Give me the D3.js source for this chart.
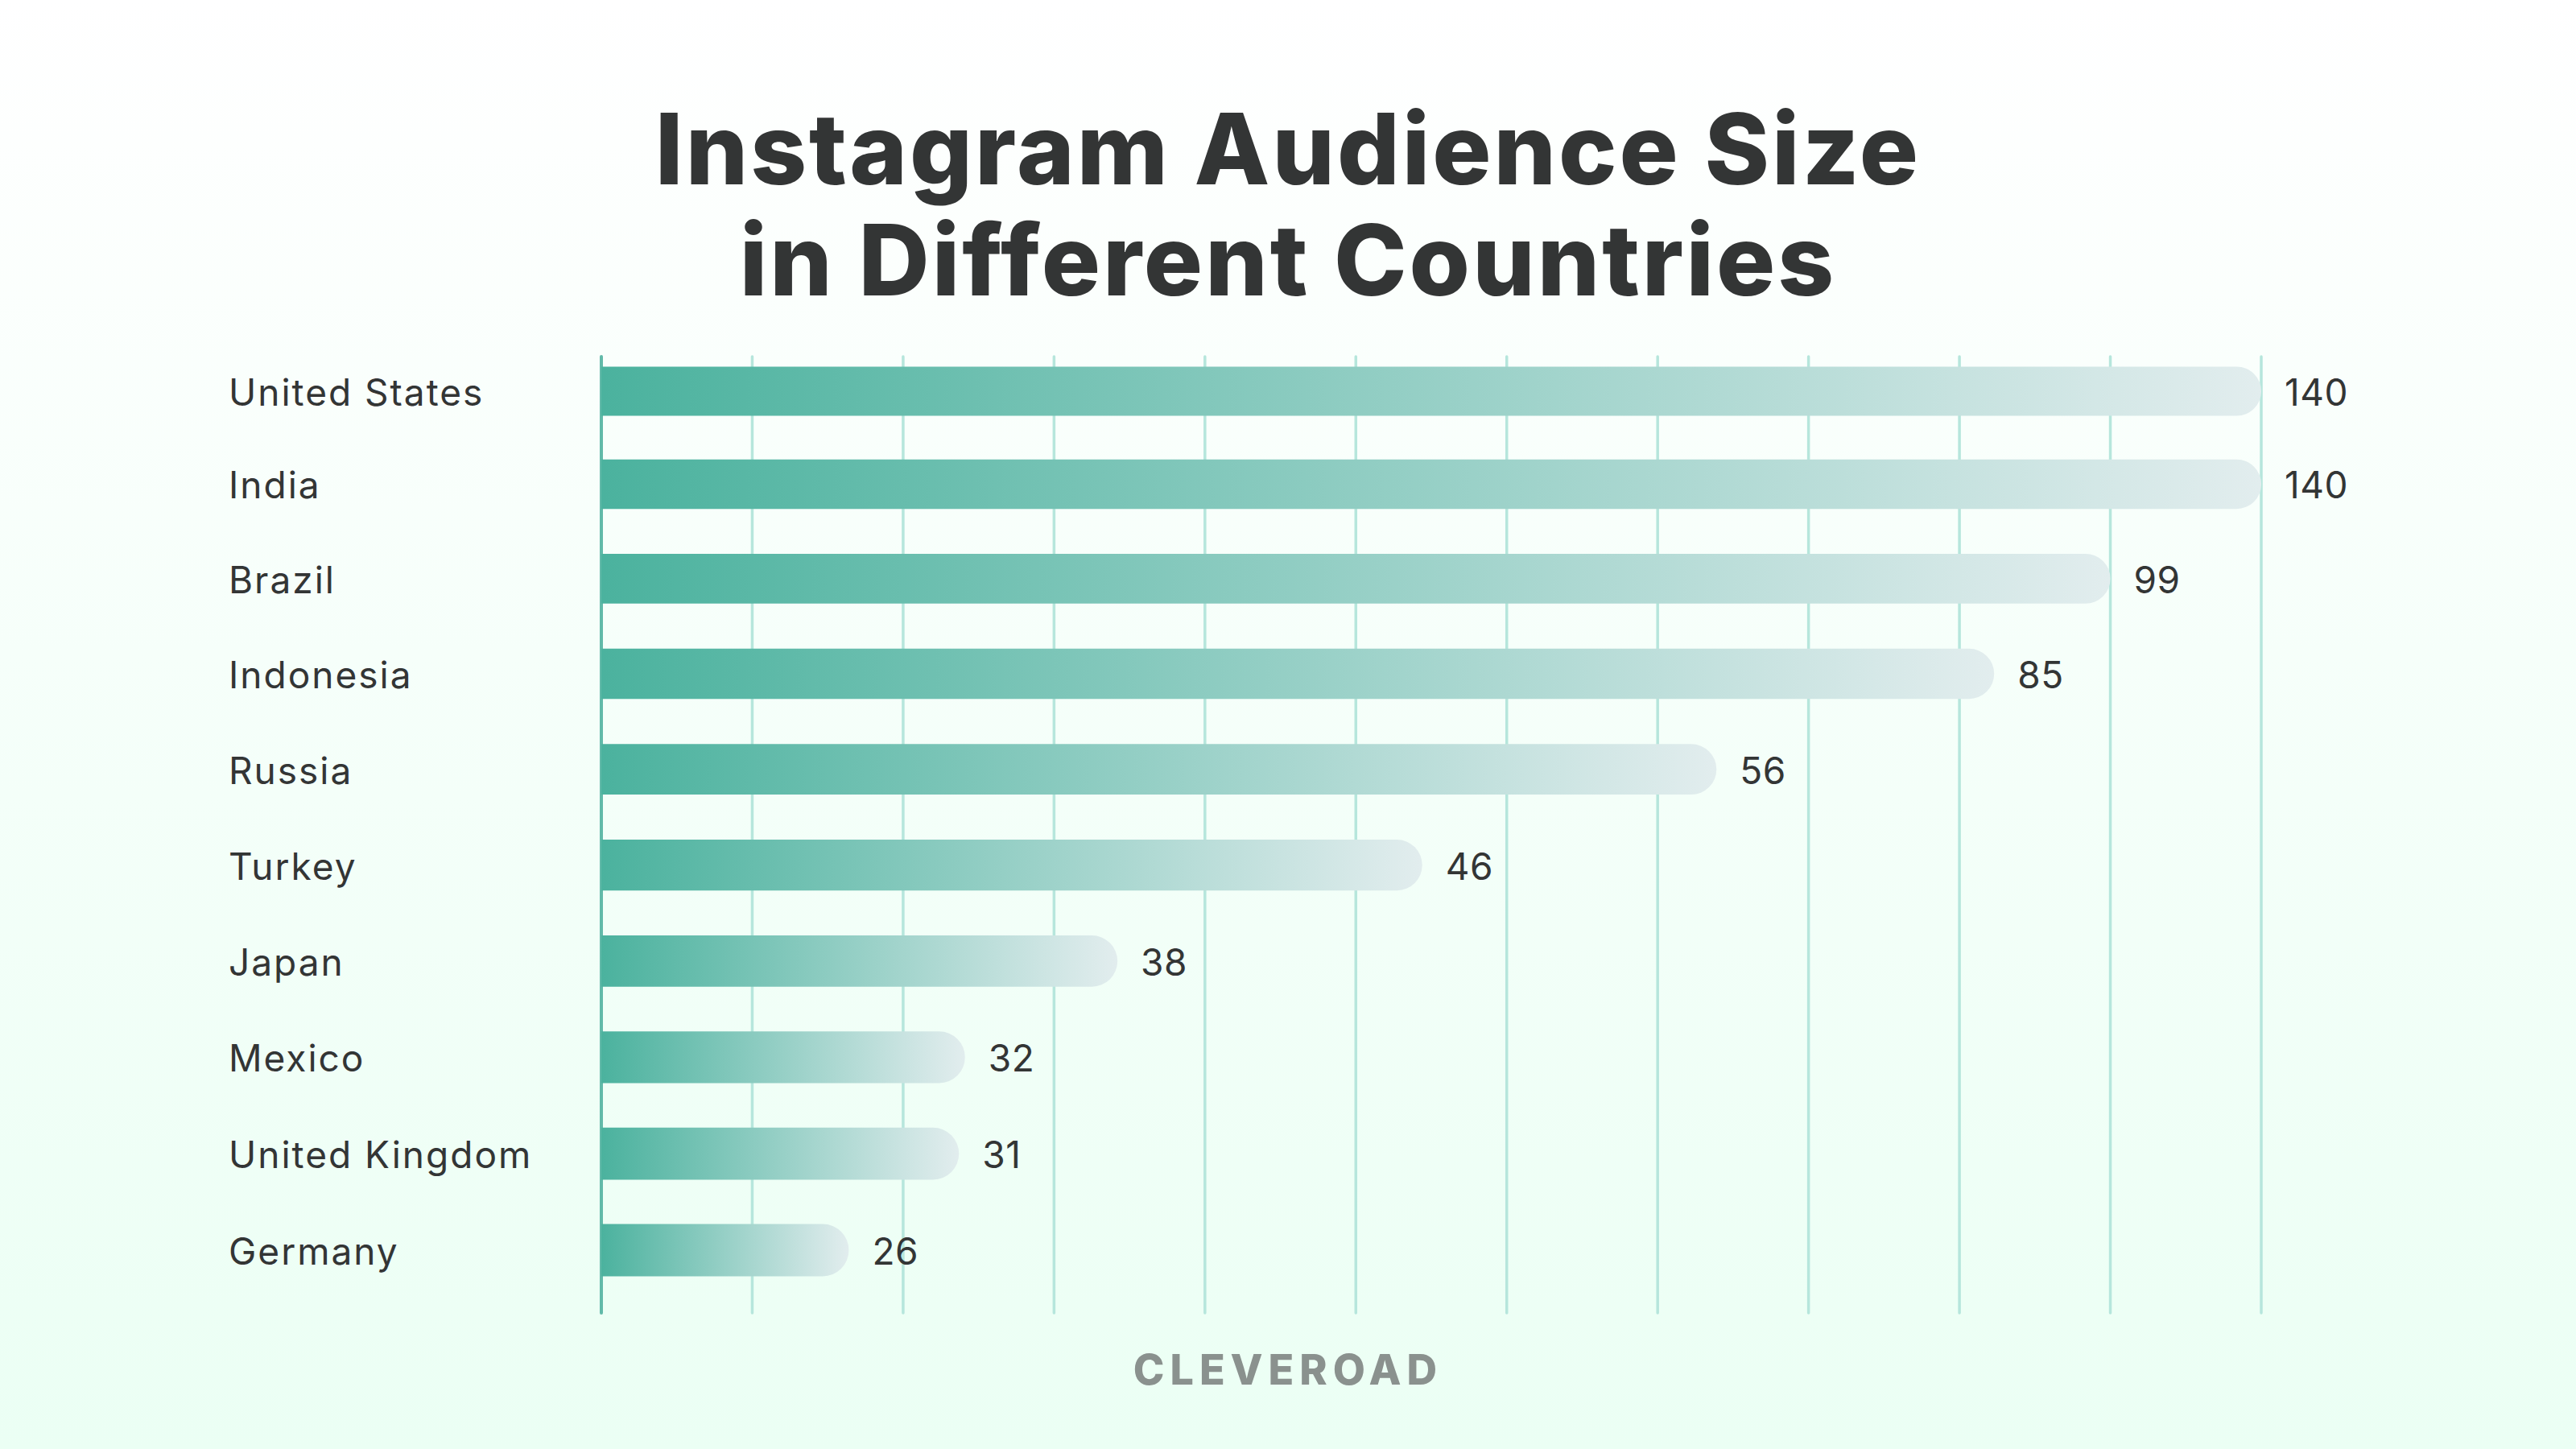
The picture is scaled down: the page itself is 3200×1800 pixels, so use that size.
<!DOCTYPE html>
<html>
<head>
<meta charset="utf-8">
<script src="https://cdn.jsdelivr.net/npm/d3@7"></script>
<style>
  html, body { margin: 0; padding: 0; }
  svg { display: block; }
  text { font-family: Inter, "Noto Sans", sans-serif; }
</style>
</head>
<body>
<div id="chart"></div>
<script>
const titleLines = ['Instagram Audience Size', 'in Different Countries'];
const brand = 'CLEVEROAD';
const countries = ['United States', 'India', 'Brazil', 'Indonesia', 'Russia', 'Turkey', 'Japan', 'Mexico', 'United Kingdom', 'Germany'];
const valueLabels = [140, 140, 99, 85, 56, 46, 38, 32, 31, 26];
// the printed numbers and the drawn lengths don't agree in the original,
// so bar lengths are read off the picture, in gridline intervals
const barLengths = [11, 11, 10, 9.23, 7.39, 5.44, 3.42, 2.41, 2.37, 1.64];
const gridTicks = d3.range(0, 12);

const width = 3200;
const height = 1800;

const svg = d3.select('#chart').append('svg')
  .attr('width', width)
  .attr('height', height)
  .attr('viewBox', [0, 0, width, height]);

const defs = svg.append('defs');

const bg = defs.append('linearGradient')
  .attr('id', 'bg')
  .attr('x1', 0).attr('y1', 0).attr('x2', 0).attr('y2', 1);
bg.append('stop').attr('offset', 0).attr('stop-color', '#ffffff');
bg.append('stop').attr('offset', 1).attr('stop-color', '#ebfff4');

const barFill = defs.append('linearGradient')
  .attr('id', 'barFill')
  .attr('x1', 0).attr('y1', 0).attr('x2', 1).attr('y2', 0);
barFill.append('stop').attr('offset', 0).attr('stop-color', '#4bb29e');
barFill.append('stop').attr('offset', 1).attr('stop-color', '#e2edee');

svg.append('rect').attr('width', width).attr('height', height).attr('fill', 'url(#bg)');

const x = d3.scaleLinear().domain([0, 11]).range([747, 2809]);
// rows drift slightly apart going down the chart
const y = d3.scalePow().exponent(1.012).domain([0, countries.length - 1]).range([486, 1553]);
const barHeight = d3.scaleLinear().domain([0, countries.length - 1]).range([61, 65]);

// Title
svg.append('g')
  .selectAll('text')
  .data(titleLines)
  .join('text')
  .attr('x', 1600)
  .attr('y', (d, i) => 229 + i * 138)
  .attr('text-anchor', 'middle')
  .attr('font-size', 122)
  .attr('font-weight', 800)
  .attr('letter-spacing', 3)
  .attr('fill', '#333535')
  .text((d) => d);

// Gridlines
svg.append('g')
  .selectAll('line')
  .data(gridTicks)
  .join('line')
  .attr('x1', (d) => x(d))
  .attr('x2', (d) => x(d))
  .attr('y1', 443)
  .attr('y2', 1631)
  .attr('stroke', (d) => (d === 0 ? '#62baa9' : '#b6e6dc'))
  .attr('stroke-width', (d) => (d === 0 ? 4 : 3.5))
  .attr('stroke-linecap', 'round');

function barPath(d, i) {
  const h = barHeight(i);
  const r = h / 2;
  const top = y(i) - r;
  const bottom = y(i) + r;
  const right = x(d);
  const p = d3.path();
  p.moveTo(x(0), top);
  p.lineTo(right - r, top);
  p.arc(right - r, y(i), r, -Math.PI / 2, Math.PI / 2);
  p.lineTo(x(0), bottom);
  p.closePath();
  return p.toString();
}

// Bars
svg.append('g')
  .selectAll('path')
  .data(barLengths)
  .join('path')
  .attr('d', barPath)
  .attr('fill', 'url(#barFill)');

// Country labels
svg.append('g')
  .selectAll('text')
  .data(countries)
  .join('text')
  .attr('x', 284)
  .attr('y', (d, i) => y(i) + 18)
  .attr('font-size', 46)
  .attr('font-weight', 400)
  .attr('letter-spacing', 2)
  .attr('fill', '#333535')
  .text((d) => d);

// Value labels
svg.append('g')
  .selectAll('text')
  .data(valueLabels)
  .join('text')
  .attr('x', (d, i) => x(barLengths[i]) + 29)
  .attr('y', (d, i) => y(i) + 18)
  .attr('font-size', 46)
  .attr('font-weight', 400)
  .attr('letter-spacing', 0.5)
  .attr('fill', '#333535')
  .text((d) => d);

svg.append('text')
  .attr('x', 1600)
  .attr('y', 1720)
  .attr('text-anchor', 'middle')
  .attr('font-size', 52)
  .attr('font-weight', 800)
  .attr('letter-spacing', 7)
  .attr('fill', '#8a918e')
  .text(brand);
</script>
</body>
</html>
